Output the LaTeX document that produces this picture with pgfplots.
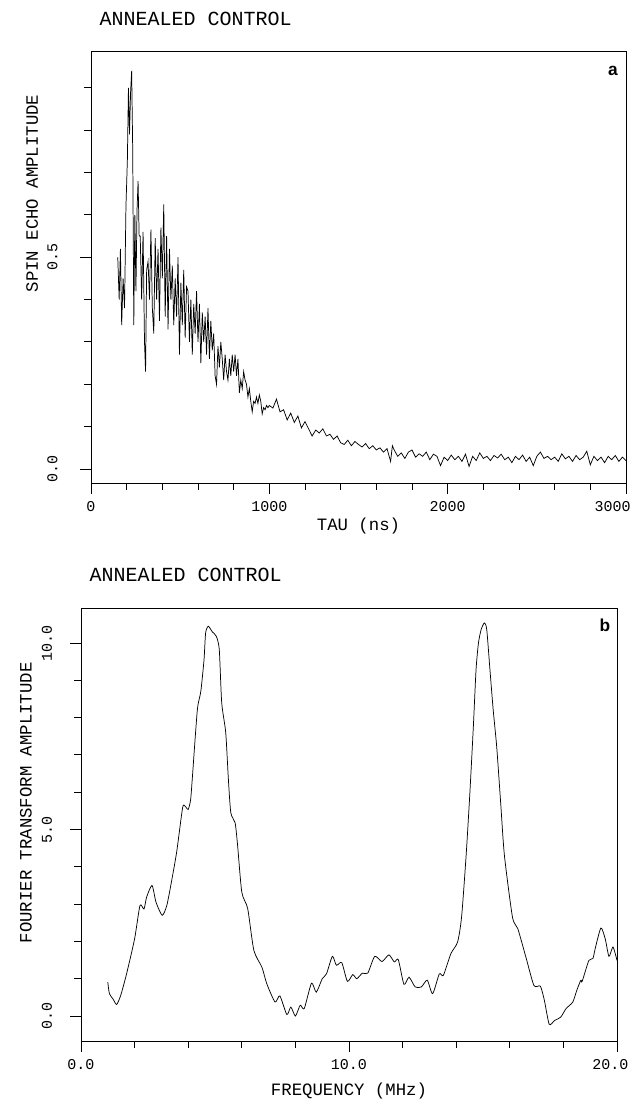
\documentclass[border=0pt]{standalone}
\usepackage{pgfplots}
\pgfplotsset{compat=1.18}
\usepackage{fontspec}
\setmainfont{Liberation Mono}
\setsansfont{Liberation Sans}
\pgfplotsset{
  oldplot/.style={
    scale only axis, anchor=south west,
    tick pos=left, tick align=outside,
    major tick length=8pt, minor tick length=5pt,
    axis line style={line width=0.7pt},
    every tick/.style={line width=0.7pt, black},
    tick label style={font=\fontsize{11.25}{12}\selectfont, inner sep=0pt},
    xticklabel style={anchor=north, yshift=-6pt},
    yticklabel style={rotate=90, anchor=south, xshift=0pt},
    label style={font=\fontsize{13}{14}\selectfont},
  }
}
\begin{document}
\begin{tikzpicture}
\useasboundingbox (0,0) rectangle (474pt,825.75pt);
\node[anchor=base west, font=\fontsize{15}{16}\selectfont] at (71.25pt,806.25pt) {ANNEALED CONTROL};
\node[anchor=base west, font=\fontsize{15}{16}\selectfont] at (63.75pt,389.25pt) {ANNEALED CONTROL};
\begin{axis}[oldplot,
  at={(68.25pt,463.5pt)}, width=401.25pt, height=324pt,
  xmin=0, xmax=3000, ymin=-0.033, ymax=0.987,
  yticklabel shift=17pt,
  xtick={0,1000,2000,3000}, xticklabels={0,1000,2000,3000\kern20pt},
  minor xtick={200,400,600,800,1200,1400,1600,1800,2200,2400,2600,2800},
  ytick={0,0.5}, yticklabels={0.0,0.5},
  minor ytick={0.1,0.2,0.3,0.4,0.6,0.7,0.8,0.9},
  xlabel={TAU (ns)}, ylabel={SPIN ECHO AMPLITUDE},
  xlabel style={at={(axis description cs:0.5,0)}, anchor=center, yshift=-32.25pt},
  ylabel style={at={(axis description cs:-0.110,0.67)}, anchor=center, rotate=0},
]
\addplot[black, line width=0.55pt] coordinates {
(150,0.50)(158,0.40)(165,0.52)(172,0.34)(180,0.45)(188,0.38)(196,0.62)(204,0.73)(210,0.90)(216,0.79)(222,0.89)(228,0.94)(234,0.75)(240,0.34)(246,0.60)(252,0.42)(258,0.61)(264,0.68)(270,0.55)(276,0.55)(284,0.40)(292,0.56)(300,0.30)(306,0.23)(312,0.47)(320,0.49)(328,0.40)(336,0.565)(344,0.38)(352,0.32)(360,0.545)(368,0.40)(376,0.52)(384,0.35)(392,0.57)(400,0.45)(408,0.625)(416,0.36)(424,0.55)(432,0.33)(440,0.52)(448,0.40)(456,0.48)(464,0.34)(472,0.45)(480,0.36)(488,0.50)(496,0.27)(504,0.44)(512,0.34)(520,0.47)(528,0.31)(536,0.43)(544,0.42)(552,0.30)(560,0.40)(568,0.27)(576,0.39)(584,0.32)(592,0.42)(600,0.30)(608,0.39)(616,0.25)(624,0.37)(632,0.30)(640,0.36)(648,0.27)(656,0.38)(664,0.26)(672,0.35)(680,0.28)(688,0.32)(696,0.22)(704,0.20)(712,0.29)(720,0.24)(728,0.30)(736,0.26)(744,0.21)(752,0.27)(760,0.23)(768,0.21)(776,0.26)(784,0.22)(792,0.27)(800,0.23)(808,0.27)(816,0.22)(824,0.26)(832,0.18)(840,0.21)(848,0.19)(856,0.23)(864,0.21)(872,0.20)(880,0.17)(888,0.19)(896,0.16)(904,0.135)(912,0.16)(920,0.155)(928,0.17)(936,0.155)(944,0.175)(952,0.16)(960,0.13)(968,0.145)(976,0.14)(984,0.15)(992,0.145)
(1000,0.150)(1020,0.144)(1040,0.165)(1060,0.135)(1080,0.140)(1100,0.116)(1120,0.132)(1140,0.110)(1160,0.125)(1180,0.097)(1200,0.112)(1220,0.095)(1240,0.078)(1260,0.092)(1280,0.085)(1300,0.095)(1320,0.078)(1340,0.082)(1360,0.070)(1380,0.078)(1400,0.062)(1420,0.058)(1440,0.068)(1460,0.055)(1480,0.065)(1500,0.058)(1520,0.052)(1540,0.060)(1560,0.048)(1580,0.055)(1600,0.045)(1620,0.050)(1640,0.040)(1660,0.048)(1680,0.018)(1690,0.055)
(1700,0.045)(1720,0.030)(1740,0.038)(1760,0.025)(1780,0.040)(1800,0.045)(1820,0.028)(1840,0.036)(1860,0.030)(1880,0.040)(1900,0.022)(1920,0.035)(1940,0.030)(1960,0.008)(1980,0.028)(2000,0.020)(2020,0.033)(2040,0.022)(2060,0.030)(2080,0.018)(2100,0.035)(2120,0.006)(2140,0.030)(2160,0.020)(2180,0.038)(2200,0.025)(2220,0.030)(2240,0.020)(2260,0.032)(2280,0.026)(2300,0.035)(2320,0.022)(2340,0.028)(2360,0.015)(2380,0.030)(2400,0.022)(2420,0.033)(2440,0.018)(2460,0.028)(2480,0.008)(2500,0.030)(2520,0.040)(2540,0.025)(2560,0.030)(2580,0.022)(2600,0.028)(2620,0.018)(2640,0.036)(2660,0.024)(2680,0.030)(2700,0.018)(2720,0.032)(2740,0.022)(2760,0.028)(2780,0.042)(2800,0.010)(2820,0.030)(2840,0.020)(2860,0.028)(2880,0.015)(2900,0.030)(2920,0.022)(2940,0.032)(2960,0.018)(2980,0.028)(3000,0.020)
};
\node[anchor=north east, inner sep=0pt, font=\sffamily\bfseries\fontsize{13}{13}\selectfont] at (rel axis cs:0.985,0.965) {a};
\end{axis}
\begin{axis}[oldplot,
  at={(60.75pt,45pt)}, width=402pt, height=324.75pt,
  xmin=0, xmax=20, ymin=-0.67, ymax=10.94,
  yticklabel shift=13.5pt,
  xtick={0,10,20}, xticklabels={0.0,10.0,20.0\kern10pt},
  minor xtick={2,4,6,8,12,14,16,18},
  ytick={0,5,10}, yticklabels={0.0,5.0,10.0},
  minor ytick={1,2,3,4,6,7,8,9},
  xlabel={FREQUENCY (MHz)}, ylabel={FOURIER TRANSFORM AMPLITUDE},
  xlabel style={at={(axis description cs:0.5,0)}, anchor=center, yshift=-37.5pt},
  ylabel style={at={(axis description cs:-0.103,0.55)}, anchor=center, rotate=0},
]
\addplot[black, line width=0.55pt, smooth, tension=0.4] coordinates {
(1.0,0.91)(1.06,0.60)(1.2,0.45)(1.33,0.31)(1.48,0.55)(1.7,1.13)(2.0,2.07)(2.2,2.96)(2.35,2.87)(2.45,3.19)(2.65,3.50)(2.8,3.05)(3.03,2.70)(3.2,2.96)(3.36,3.54)(3.57,4.40)(3.79,5.58)(3.88,5.63)(4.0,5.54)(4.09,5.80)(4.15,6.34)(4.34,8.2)(4.47,8.7)(4.59,9.55)(4.65,10.27)(4.75,10.45)(4.9,10.3)(5.05,10.18)(5.16,9.82)(5.25,8.4)(5.4,7.6)(5.5,6.34)(5.59,5.45)(5.75,5.18)(5.84,4.6)(6.0,3.32)(6.22,2.88)(6.45,1.76)(6.75,1.31)(6.93,0.87)(7.24,0.375)(7.42,0.54)(7.68,0.04)(7.83,0.24)(8.0,0.0)(8.18,0.29)(8.33,0.2)(8.6,0.88)(8.78,0.64)(9.0,1.0)(9.16,1.13)(9.38,1.6)(9.53,1.36)(9.73,1.43)(9.94,0.93)(10.14,1.11)(10.29,1.0)(10.5,1.15)(10.7,1.15)(10.96,1.6)(11.23,1.46)(11.49,1.64)(11.69,1.45)(11.84,1.51)(12.05,0.85)(12.24,1.04)(12.47,0.78)(12.7,0.78)(12.92,0.96)(13.12,0.6)(13.37,1.13)(13.52,1.09)(13.8,1.67)(14.05,1.98)(14.2,2.65)(14.37,4.3)(14.51,5.98)(14.64,7.76)(14.74,9.28)(14.83,10.0)(14.93,10.36)(15.05,10.54)(15.14,10.36)(15.26,9.28)(15.38,8.21)(15.51,7.23)(15.66,5.71)(15.8,4.3)(16.1,2.65)(16.3,2.34)(16.6,1.58)(16.9,0.82)(17.14,0.8)(17.29,0.42)(17.47,-0.22)(17.67,-0.12)(17.9,-0.03)(18.1,0.2)(18.35,0.375)(18.5,0.69)(18.65,0.96)(18.7,0.93)(18.95,1.49)(19.1,1.54)(19.2,1.85)(19.4,2.36)(19.56,2.07)(19.7,1.6)(19.85,1.85)(20.0,1.49)
};
\node[anchor=north east, inner sep=0pt, font=\sffamily\bfseries\fontsize{13}{13}\selectfont] at (rel axis cs:0.988,0.975) {b};
\end{axis}
\end{tikzpicture}
\end{document}
